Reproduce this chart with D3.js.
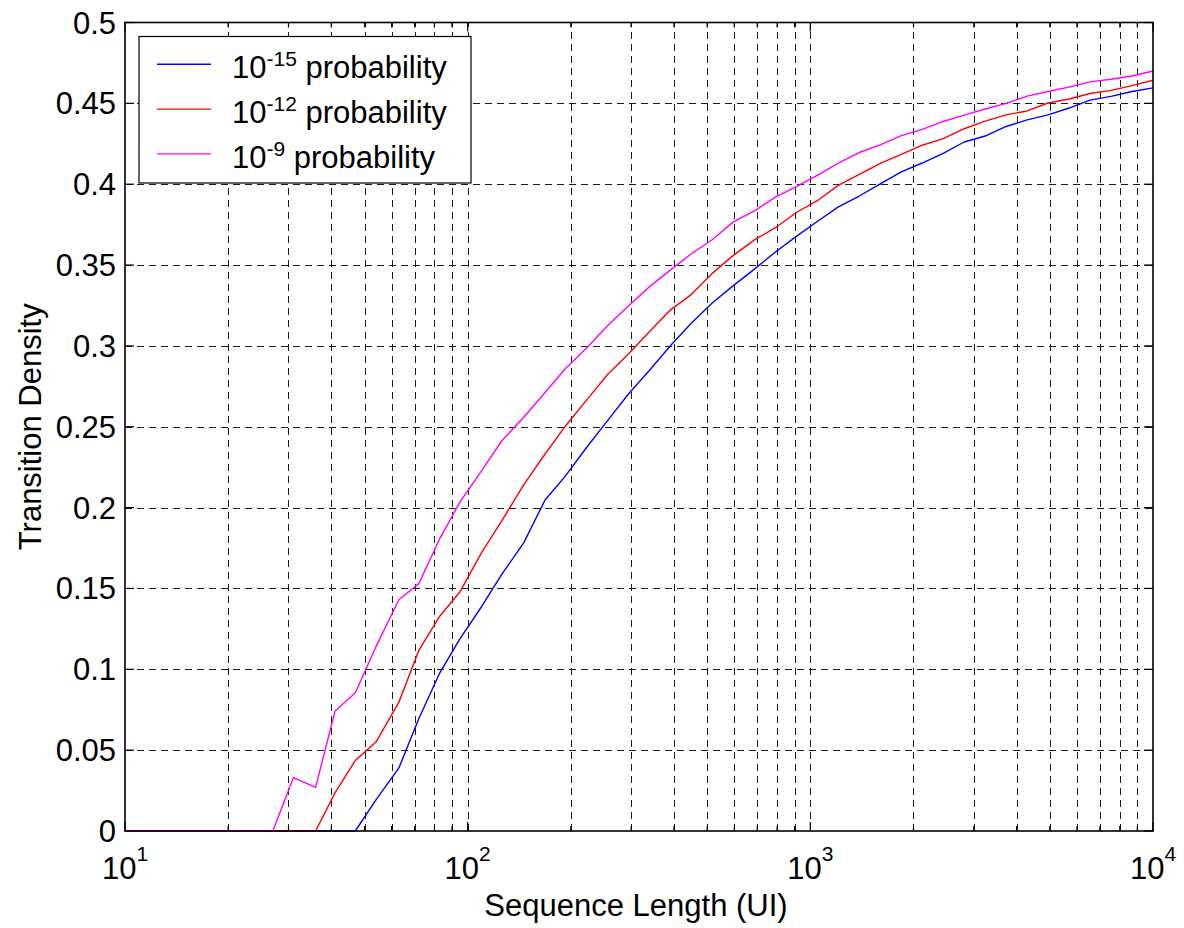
<!DOCTYPE html>
<html><head><meta charset="utf-8">
<script src="https://cdn.jsdelivr.net/npm/d3@7"></script>
<style>
body{margin:0;background:#fff}
svg{display:block}
text{font-family:"Liberation Sans", Arial, Helvetica, sans-serif;fill:#000}
</style>
</head><body>
<svg id="chart" width="1184" height="928"></svg>
<script>
// ---- data ----
const seqLength = [10,12,13,15,18,20,23,27,31,36,41,47,54,63,72,83,95,110,126,146,168,193,222,256,295,339,391,450,518,596,687,791,910,1048,1207,1389,1600,1842,2121,2442,2812,3237,3728,4292,4942,5690,6551,7543,8685,10000];
const prob15 = [0,0,0,0,0,0,0,0,0,0,0,0,0.0193,0.039,0.0694,0.098,0.119,0.139,0.159,0.1785,0.2045,0.2196,0.237,0.2538,0.2704,0.2848,0.3002,0.3142,0.3267,0.3373,0.3475,0.3581,0.3677,0.3769,0.386,0.3927,0.4002,0.4076,0.4131,0.419,0.4261,0.4298,0.4357,0.4398,0.4429,0.4471,0.452,0.4543,0.4573,0.4596];
const prob12 = [0,0,0,0,0,0,0,0,0,0,0.0236,0.0436,0.055,0.0797,0.1117,0.133,0.148,0.1725,0.1921,0.2144,0.233,0.2505,0.2663,0.2823,0.2952,0.3088,0.3223,0.3319,0.345,0.356,0.3656,0.3731,0.3825,0.3898,0.3993,0.4061,0.4129,0.4184,0.4241,0.4282,0.4343,0.439,0.4429,0.4453,0.4502,0.4527,0.4561,0.458,0.461,0.4643];
const prob9 = [0,0,0,0,0,0,0,0,0.033,0.027,0.074,0.0855,0.114,0.143,0.153,0.181,0.2035,0.223,0.2415,0.256,0.271,0.286,0.2985,0.3125,0.3248,0.3365,0.347,0.357,0.3658,0.3767,0.3835,0.392,0.3985,0.4054,0.413,0.4196,0.4243,0.430,0.4339,0.4388,0.4427,0.4465,0.450,0.4545,0.4573,0.460,0.4633,0.4649,0.4669,0.470];
const seriesNames = ["-15","-12","-9"];
const seriesColors = ["#0000ff","#ff0000","#ff00ff"];
const yTicks = [0,0.05,0.1,0.15,0.2,0.25,0.3,0.35,0.4,0.45,0.5];
const yTickLabels = ["0","0.05","0.1","0.15","0.2","0.25","0.3","0.35","0.4","0.45","0.5"];
const xMajor = [10,100,1000,10000];
const xMajorExp = ["1","2","3","4"];
const xMinor = [20,30,40,50,60,70,80,90,200,300,400,500,600,700,800,900,2000,3000,4000,5000,6000,7000,8000,9000];

// ---- layout ----
const L = 125, R = 1153, T = 22.5, B = 831;
const FS = 31, SUP = 21;
const svg = d3.select("#chart");
const x = d3.scaleLog().domain([10,10000]).range([L,R]);
const y = d3.scaleLinear().domain([0,0.5]).range([B,T]);

// grid
const grid = svg.append("g").attr("stroke","#1a1a1a").attr("stroke-width",1).attr("stroke-dasharray","7,5");
grid.selectAll("line.vx").data(xMajor.concat(xMinor).filter(d=>d>10&&d<10000)).enter().append("line")
  .attr("x1",d=>Math.round(x(d))+0.5).attr("x2",d=>Math.round(x(d))+0.5).attr("y1",B).attr("y2",T);
grid.selectAll("line.hy").data(yTicks.filter(d=>d>0&&d<0.5)).enter().append("line")
  .attr("y1",d=>Math.round(y(d))+0.5).attr("y2",d=>Math.round(y(d))+0.5).attr("x1",L).attr("x2",R);

// ticks
const ticks = svg.append("g").attr("stroke","#000").attr("stroke-width",1.2);
xMajor.forEach(d=>{
  const px = x(d);
  ticks.append("line").attr("x1",px).attr("x2",px).attr("y1",B).attr("y2",B-9);
  ticks.append("line").attr("x1",px).attr("x2",px).attr("y1",T).attr("y2",T+9);
});
xMinor.forEach(d=>{
  const px = x(d);
  ticks.append("line").attr("x1",px).attr("x2",px).attr("y1",B).attr("y2",B-5);
  ticks.append("line").attr("x1",px).attr("x2",px).attr("y1",T).attr("y2",T+5);
});
yTicks.forEach(d=>{
  const py = y(d);
  ticks.append("line").attr("x1",L).attr("x2",L+9).attr("y1",py).attr("y2",py);
  ticks.append("line").attr("x1",R).attr("x2",R-9).attr("y1",py).attr("y2",py);
});

// data lines
const allSeries = [prob15, prob12, prob9];
const line = d3.line().x((d,i)=>x(seqLength[i])).y(d=>y(d));
allSeries.forEach((s,i)=>{
  svg.append("path").datum(s).attr("d",line).attr("fill","none")
    .attr("stroke",seriesColors[i]).attr("stroke-width",1.4).attr("stroke-linejoin","round");
});

// frame
svg.append("rect").attr("x",L).attr("y",T).attr("width",R-L).attr("height",B-T)
  .attr("fill","none").attr("stroke","#000").attr("stroke-width",1.6);

// y tick labels
svg.selectAll("text.yl").data(yTicks).enter().append("text")
  .attr("x",L-9).attr("y",d=>y(d)+11).attr("text-anchor","end")
  .attr("font-size",FS).text((d,i)=>yTickLabels[i]);

// x tick labels
xMajor.forEach((d,i)=>{
  const t = svg.append("text").attr("x",x(d)).attr("y",879).attr("text-anchor","middle").attr("font-size",FS);
  t.append("tspan").text("10");
  t.append("tspan").attr("font-size",SUP).attr("dy",-18).text(xMajorExp[i]);
});

// axis labels
svg.append("text").attr("x",(L+R)/2 - 3).attr("y",916).attr("text-anchor","middle").attr("font-size",FS)
  .text("Sequence Length (UI)");
svg.append("text").attr("transform",`translate(41,${(T+B)/2}) rotate(-90)`).attr("text-anchor","middle")
  .attr("font-size",FS).text("Transition Density");

// legend
const lg = svg.append("g");
lg.append("rect").attr("x",139).attr("y",36.5).attr("width",332).attr("height",146.5)
  .attr("fill","#fff").attr("stroke","#000").attr("stroke-width",1.2);
seriesNames.forEach((n,i)=>{
  const ly = 64.3 + i*44.8;
  lg.append("line").attr("x1",157).attr("x2",211).attr("y1",ly).attr("y2",ly)
    .attr("stroke",seriesColors[i]).attr("stroke-width",1.4);
  const t = lg.append("text").attr("x",232).attr("y",ly+14).attr("font-size",FS);
  t.append("tspan").text("10");
  t.append("tspan").attr("font-size",SUP).attr("dy",-12).text(n);
  t.append("tspan").attr("dy",12).text(" probability");
});
</script>
</body></html>
